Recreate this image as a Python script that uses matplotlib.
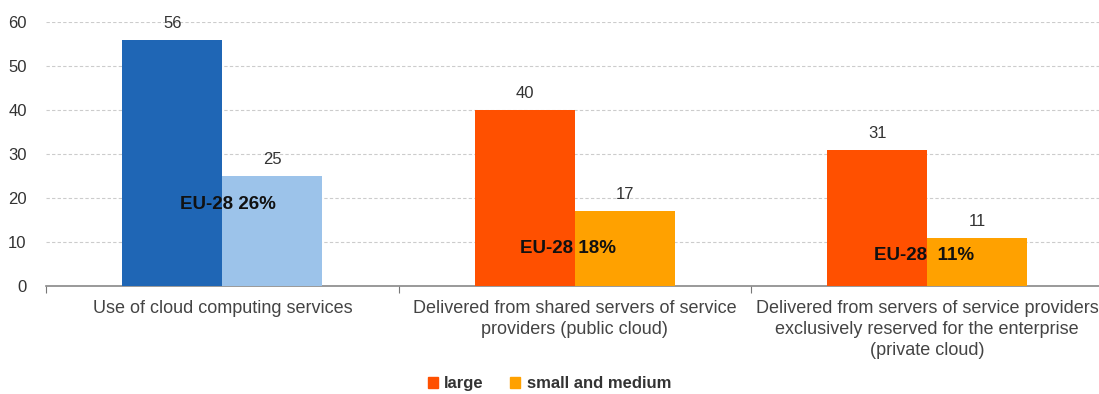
import matplotlib
matplotlib.use("Agg")
import matplotlib.pyplot as plt
import numpy as np
from matplotlib.patches import Patch

categories = ["Use of cloud computing services",
              "Delivered from shared servers of service\nproviders (public cloud)",
              "Delivered from servers of service providers\nexclusively reserved for the enterprise\n(private cloud)"]
large = [56, 40, 31]
small_medium = [25, 17, 11]
eu_labels = ["EU-28 26%", "EU-28 18%", "EU-28  11%"]
eu_y = [18.5, 8.5, 7]
yticks = [0, 10, 20, 30, 40, 50, 60]

large_colors = ["#1F66B5", "#FF5000", "#FF5000"]
small_colors = ["#9CC3EA", "#FFA100", "#FFA100"]
eu_dx = [0.017, -0.018, -0.008]

plt.rcParams['font.family'] = ['Liberation Sans', 'DejaVu Sans']
fig = plt.figure(figsize=(10.99, 3.94), dpi=100)
ax = fig.add_axes([0.042, 0.274, 0.962, 0.67])

x = np.arange(len(categories))
w = 0.284
ax.bar(x - w/2, large, w, color=large_colors, label="large", zorder=3)
ax.bar(x + w/2, small_medium, w, color=small_colors, label="small and medium", zorder=3)
for xi, v in zip(x, large):
    ax.text(xi - w/2, v + 2.0, str(v), ha='center', va='bottom', fontsize=12, color='#333333')
for xi, v in zip(x, small_medium):
    ax.text(xi + w/2, v + 2.0, str(v), ha='center', va='bottom', fontsize=12, color='#333333')
for xi, t, yy, dx in zip(x, eu_labels, eu_y, eu_dx):
    ax.text(xi + dx, yy, t, ha='center', va='center', fontsize=13.5, fontweight='bold', color='#111111', zorder=4)

ax.set_xlim(-0.5, 2.5)
ax.set_ylim(0, 60)
ax.set_yticks(yticks)
ax.yaxis.grid(True, linestyle=(0, (3, 2)), color='#cccccc', linewidth=0.8, zorder=0)
ax.set_axisbelow(True)
ax.set_xticks([-0.5, 0.5, 1.5])
ax.set_xticklabels([])
ax.tick_params(axis='x', length=5, color='#777777', direction='out')
ax.tick_params(axis='y', length=0, labelsize=12, labelcolor='#333333', pad=14)
for i, c in enumerate(categories):
    ax.text(i, -3.1, c, ha='center', va='top', fontsize=13, color='#444444', linespacing=1.32)
for s in ['top', 'right', 'left']:
    ax.spines[s].set_visible(False)
ax.spines['bottom'].set_color('#888888')
ax.spines['bottom'].set_linewidth(1.2)

handles = [Patch(color="#FF5000", label="large"), Patch(color="#FFA100", label="small and medium")]
leg = fig.legend(handles=handles, loc='center', bbox_to_anchor=(0.5, 0.026), ncol=2, frameon=False,
                 handlelength=0.6, handleheight=0.6, handletextpad=0.4, columnspacing=1.6,
                 prop={'weight': 'bold', 'size': 12})
for t in leg.get_texts():
    t.set_color('#333333')

fig.savefig("out.png", dpi=100)
